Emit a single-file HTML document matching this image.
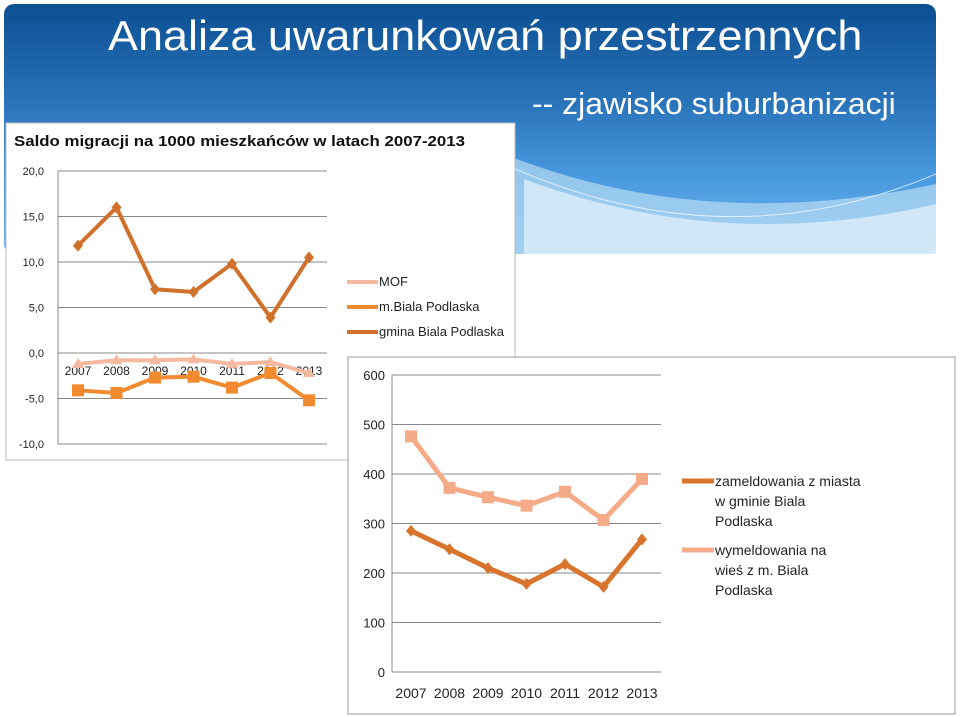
<!DOCTYPE html>
<html><head><meta charset="utf-8"><style>
body{margin:0;width:960px;height:717px;background:#fff;position:relative;overflow:hidden;font-family:"Liberation Sans",sans-serif}
.hdr{position:absolute;left:4px;top:4px;width:932px;height:250px;border-radius:10px;background:linear-gradient(180deg,#0c4f92 0%,#2a74bb 40%,#4a9ae0 70%,#6fb4ea 100%)}
.t1{position:absolute;left:108px;top:12px;color:#fff;font-size:42px;transform-origin:0 0;transform:scaleX(1.07);white-space:nowrap}
.t2{position:absolute;left:532px;top:86px;color:#fff;font-size:31px;transform-origin:0 0;transform:scaleX(1.03);white-space:nowrap}
</style></head><body>
<div class="hdr">
<svg width="932" height="250" style="position:absolute;left:0;top:0">
<path d="M500 150 Q700 230 932 180 L932 250 L500 250Z" fill="#b7dcf3" opacity="0.7"/>
<path d="M520 175 Q720 250 932 200 L932 250 L520 250Z" fill="#dceefa" opacity="0.8"/>
<path d="M500 160 Q720 260 932 170" stroke="#fff" fill="none" opacity="0.7"/>
</svg>
</div>
<div class="t1">Analiza uwarunkowań przestrzennych</div>
<div class="t2">-- zjawisko suburbanizacji</div>
<svg id="c1" width="960" height="717" style="position:absolute;left:0;top:0"></svg>
<script>
const years=["2007","2008","2009","2010","2011","2012","2013"];
const mof=[-1.2,-0.8,-0.8,-0.7,-1.2,-1.0,-2.2];
const miasto=[-4.1,-4.4,-2.7,-2.6,-3.8,-2.2,-5.2];
const gmina=[11.8,16.0,7.0,6.7,9.8,3.9,10.5];
const ticks1=[20,15,10,5,0,-5,-10];
const tickLabels1=["20,0","15,0","10,0","5,0","0,0","-5,0","-10,0"];
const zamel=[285,248,210,178,218,172,268];
const wymel=[476,372,353,336,364,307,390];
const ticks2=[600,500,400,300,200,100,0];
const NS="http://www.w3.org/2000/svg";
const svg=document.getElementById('c1');
function mk(t,a,p){const e=document.createElementNS(NS,t);for(const k in a)e.setAttribute(k,a[k]);(p||svg).appendChild(e);return e;}
const b1=mk('rect',{x:6,y:123,width:509,height:337,fill:'#fff',stroke:'#bbb'});


const tt=mk('text',{x:14,y:146,'font-size':15,'font-weight':'bold',fill:'#111',textLength:451,lengthAdjust:'spacingAndGlyphs'});
tt.textContent='Saldo migracji na 1000 mieszkańców w latach 2007-2013';


const x1=i=>78+i*38.5, y1=v=>353-v*9.1;
ticks1.forEach((v,i)=>{const l=mk('line',{x1:58,x2:327,y1:y1(v),y2:y1(v),stroke:'#888'});


const t=mk('text',{x:44,y:y1(v)+4,'font-size':11,'text-anchor':'end',fill:'#222'});t.textContent=tickLabels1[i];

});
mk('line',{x1:58,x2:58,y1:171,y2:444,stroke:'#888'});
years.forEach((y,i)=>{const t=mk('text',{x:x1(i),y:375,'font-size':12,'text-anchor':'middle',fill:'#222'});t.textContent=y;

});
function series(d,xf,yf,col,w,shape,name){
const p=mk('polyline',{points:d.map((v,i)=>xf(i)+','+yf(v)).join(' '),fill:'none',stroke:col,'stroke-width':w,'stroke-linejoin':'round'});


d.forEach((v,i)=>{const cx=xf(i),cy=yf(v);let m;
if(shape==='sq')m=mk('rect',{x:cx-6,y:cy-6,width:12,height:12,fill:col});
else if(shape==='tri')m=mk('polygon',{points:`${cx},${cy-6} ${cx-6},${cy+4} ${cx+6},${cy+4}`,fill:col});
else m=mk('polygon',{points:`${cx},${cy-6} ${cx+5},${cy} ${cx},${cy+6} ${cx-5},${cy}`,fill:col});

});}
series(mof,x1,y1,'#f5b9a0',4,'tri','mof');
series(miasto,x1,y1,'#f28a30',4,'sq','miasto');
series(gmina,x1,y1,'#d0702a',4,'dia','gmina');
const leg1=[['MOF','#f5b9a0','tri'],['m.Biala Podlaska','#f28a30','sq'],['gmina Biala Podlaska','#d0702a','dia']];
leg1.forEach((l,i)=>{const y=282+i*25;mk('line',{x1:347,x2:378,y1:y,y2:y,stroke:l[1],'stroke-width':4});
const t=mk('text',{x:379,y:y+4,'font-size':13,fill:'#222'});t.textContent=l[0];

});
const b2=mk('rect',{x:348,y:357,width:607,height:357,fill:'#fff',stroke:'#999'});


const x2=i=>411+i*38.5, y2=v=>672-v*0.495;
ticks2.forEach(v=>{const l=mk('line',{x1:392,x2:661,y1:y2(v),y2:y2(v),stroke:'#888'});


const t=mk('text',{x:385,y:y2(v)+5,'font-size':13,'text-anchor':'end',fill:'#222'});t.textContent=String(v);

});
mk('line',{x1:392,x2:392,y1:375,y2:672,stroke:'#888'});
years.forEach((y,i)=>{const t=mk('text',{x:x2(i),y:698,'font-size':14,'text-anchor':'middle',fill:'#222'});t.textContent=y;

});
series(wymel,x2,y2,'#f5aa88',5,'sq','wymeldowania');
series(zamel,x2,y2,'#d8742c',5,'dia','zameldowania');
const leg2=[[['zameldowania z miasta','w gminie Biala','Podlaska'],'#d8742c',481],[['wymeldowania na','wieś z m. Biala','Podlaska'],'#f5aa88',550]];
leg2.forEach(l=>{mk('line',{x1:682,x2:714,y1:l[2],y2:l[2],stroke:l[1],'stroke-width':5});
l[0].forEach((s,j)=>{const t=mk('text',{x:715,y:l[2]+5+j*20,'font-size':14,fill:'#222'});t.textContent=s;

});});
</script>
</body></html>
